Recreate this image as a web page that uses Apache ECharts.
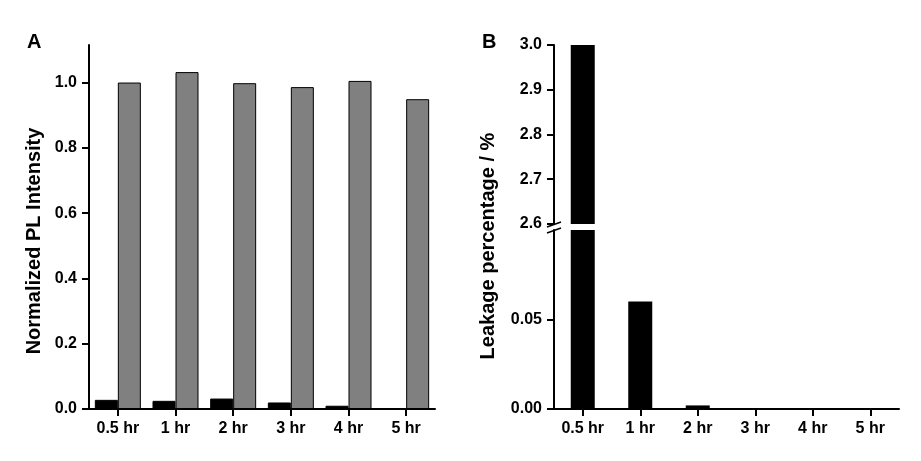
<!DOCTYPE html>
<html>
<head>
<meta charset="utf-8">
<script src="https://cdn.jsdelivr.net/npm/echarts@6/dist/echarts.min.js"></script>
<style>
  html, body { margin: 0; padding: 0; background: #fff; }
  #main { width: 921px; height: 461px; }
</style>
</head>
<body>
<div id="main"></div>
<script>
// categories (both panels)
var hours = ['0.5 hr', '1 hr', '2 hr', '3 hr', '4 hr', '5 hr']

// panel A: normalized PL intensity
var blackA = [0.028, 0.025, 0.032, 0.020, 0.010, 0]
var grayA = [1.000, 1.032, 0.998, 0.986, 1.005, 0.949]
var ticksA = [0, 0.2, 0.4, 0.6, 0.8, 1.0]

// panel B: leakage percentage (broken axis)
var leakage = [3.0, 0.060, 0.002, 0, 0, 0]
var ticksBUpper = [2.6, 2.7, 2.8, 2.9, 3.0]
var ticksBLower = [0, 0.05]

var FONT = 'Liberation Sans'
var axisLine = { show: true, lineStyle: { color: '#000', width: 2 } }

function xAxisOf(gridIndex, show) {
  return {
    type: 'category',
    gridIndex: gridIndex,
    data: hours,
    show: show,
    axisLine: axisLine,
    axisTick: { show: true, alignWithLabel: true, length: 7, lineStyle: { color: '#000', width: 2 } },
    axisLabel: { color: '#000', fontFamily: FONT, fontWeight: 'bold', fontSize: 16, margin: 12 },
    splitLine: { show: false }
  }
}

function yAxisOf(gridIndex, min, max, ticks, digits) {
  return {
    type: 'value',
    gridIndex: gridIndex,
    min: min,
    max: max,
    axisLine: axisLine,
    axisTick: { show: true, length: 7, customValues: ticks, lineStyle: { color: '#000', width: 2 } },
    axisLabel: {
      color: '#000', fontFamily: FONT, fontWeight: 'bold', fontSize: 16, margin: 12,
      customValues: ticks,
      formatter: function (v) { return v.toFixed(digits) }
    },
    splitLine: { show: false }
  }
}

var myChart = echarts.init(document.getElementById('main'))

var option = {
  animation: false,
  backgroundColor: '#fff',
  title: [
    { text: 'A', left: 27, top: 32, padding: 0, textStyle: { fontFamily: FONT, fontWeight: 'bold', fontSize: 20, color: '#000' } },
    { text: 'B', left: 482, top: 32, padding: 0, textStyle: { fontFamily: FONT, fontWeight: 'bold', fontSize: 20, color: '#000' } }
  ],
  grid: [
    { left: 89, top: 45, width: 346, height: 364 },   // A
    { left: 554, top: 45, width: 345, height: 179 },  // B upper 2.6-3.0
    { left: 554, top: 230, width: 345, height: 179 }, // B lower 0-0.1
    { left: 554, top: 45, width: 345, height: 364 }   // B axis name only
  ],
  xAxis: [
    xAxisOf(0, true),
    Object.assign(xAxisOf(1, true), { axisLine: { show: false }, axisTick: { show: false }, axisLabel: { show: false } }),
    xAxisOf(2, true),
    xAxisOf(3, false)
  ],
  yAxis: [
    Object.assign(yAxisOf(0, 0, 1.115, ticksA, 1), {
      name: 'Normalized PL Intensity',
      nameLocation: 'middle',
      nameGap: 45,
      nameTextStyle: { fontFamily: FONT, fontWeight: 'bold', fontSize: 20, color: '#000', padding: [0, 28, 0, 0] }
    }),
    yAxisOf(1, 2.6, 3.0, ticksBUpper, 1),
    yAxisOf(2, 0, 0.1, ticksBLower, 2),
    {
      type: 'value', gridIndex: 3, min: 0, max: 1,
      axisLine: { show: false }, axisTick: { show: false }, axisLabel: { show: false }, splitLine: { show: false },
      name: 'Leakage percentage / %',
      nameLocation: 'middle',
      nameGap: 56,
      nameTextStyle: { fontFamily: FONT, fontWeight: 'bold', fontSize: 20, color: '#000', padding: [0, 38, 0, 0] }
    }
  ],
  series: [
    {
      type: 'bar', xAxisIndex: 0, yAxisIndex: 0, data: blackA,
      barWidth: 23, barGap: '0%',
      itemStyle: { color: '#000', borderColor: '#000', borderWidth: 1 }
    },
    {
      type: 'bar', xAxisIndex: 0, yAxisIndex: 0, data: grayA,
      barWidth: 23, barGap: '0%',
      itemStyle: { color: '#808080', borderColor: '#000', borderWidth: 1 }
    },
    {
      type: 'bar', xAxisIndex: 1, yAxisIndex: 1, data: leakage, clip: true,
      barWidth: 24, itemStyle: { color: '#000' }
    },
    {
      type: 'bar', xAxisIndex: 2, yAxisIndex: 2, data: leakage, clip: true,
      barWidth: 24, itemStyle: { color: '#000' }
    }
  ],
  graphic: [
    // axis break marks
    { type: 'line', shape: { x1: 547, y1: 227, x2: 561, y2: 222 }, style: { stroke: '#000', lineWidth: 1.5 } },
    { type: 'line', shape: { x1: 547, y1: 233, x2: 561, y2: 228 }, style: { stroke: '#000', lineWidth: 1.5 } }
  ]
}

myChart.setOption(option)
</script>
</body>
</html>
